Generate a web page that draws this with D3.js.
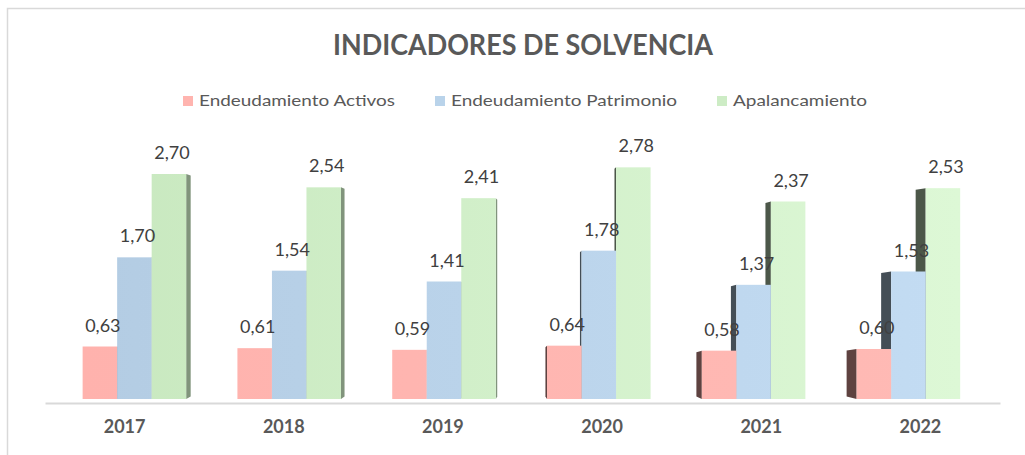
<!DOCTYPE html>
<html><head><meta charset="utf-8">
<script src="https://cdn.jsdelivr.net/npm/d3@7"></script>
<style>html,body{margin:0;padding:0;background:#fff;}svg{display:block;}</style>
</head><body>
<svg id="c" width="1025" height="455"></svg>
<script>
const years = ["2017","2018","2019","2020","2021","2022"];
const seriesNames = ["Endeudamiento Activos","Endeudamiento Patrimonio","Apalancamiento"];
const activos = [0.63,0.61,0.59,0.64,0.58,0.60];
const patrimonio = [1.70,1.54,1.41,1.78,1.37,1.53];
const apalancamiento = [2.70,2.54,2.41,2.78,2.37,2.53];
const seriesValues = [activos, patrimonio, apalancamiento];

const frontA = ["#ffb2ad","#b3cce3","#c8e8bf"];
const frontB = ["#ffbab5","#c3dcf3","#ddf8d6"];
const baseCol = ["#ffb4af","#b9d3ea","#cdecc5"];
const legendTextW = [196,226,134];

const svg = d3.select("#c");
const W = 1025, H = 455;
svg.append("rect").attr("width",W).attr("height",H).attr("fill","#fff");
svg.append("rect").attr("x",7.5).attr("y",8.5).attr("width",1040).attr("height",470)
  .attr("fill","none").attr("stroke","#d9d9d9").attr("stroke-width",1.5);

const defs = svg.append("defs");
seriesNames.forEach((s,i)=>{
  const g = defs.append("linearGradient").attr("id","g"+i)
    .attr("gradientUnits","userSpaceOnUse").attr("x1",80).attr("y1",0).attr("x2",960).attr("y2",0);
  g.append("stop").attr("offset","0").attr("stop-color",frontA[i]);
  g.append("stop").attr("offset","1").attr("stop-color",frontB[i]);
});

// Title
svg.append("text").attr("x",523).attr("y",55).attr("text-anchor","middle")
  .attr("font-family","Lato").attr("font-weight","bold").attr("font-size",28)
  .attr("fill","#595959").attr("textLength",380).attr("lengthAdjust","spacingAndGlyphs")
  .text("INDICADORES DE SOLVENCIA");

// Legend
let lx = 183;
seriesNames.forEach((s,i)=>{
  svg.append("rect").attr("x",lx).attr("y",96).attr("width",10).attr("height",10).attr("fill",baseCol[i]);
  svg.append("text").attr("x",lx+16).attr("y",106).attr("font-family","Lato").attr("font-size",15)
    .attr("fill","#595959").attr("textLength",legendTextW[i]).attr("lengthAdjust","spacingAndGlyphs").text(s);
  lx += 16 + legendTextW[i] + 40;
});

// Scales
const y0 = 399;
const y = d3.scaleLinear().domain([0,3]).range([y0, y0-250]);
const xGroup = d3.scaleBand().domain(years).range([57,985.8]).paddingInner(0.331).paddingOuter(0.1655);
const xSub = d3.scaleBand().domain(seriesNames).range([0,xGroup.bandwidth()]);
const xLabel = d3.scaleBand().domain(years).range([45,1000]);

function sideOff(c){ const t=Math.max(0,(c-xGroup("2017")-xGroup.bandwidth()/2)/774); return 4.5-14.5*Math.pow(t,1.7); }

const bars = svg.append("g");
years.forEach((yr,gi)=>{
  const gx = xGroup(yr);
  const c = gx + xGroup.bandwidth()/2;
  const off = sideOff(c);
  const order = off>=0 ? [0,1,2] : [2,1,0];
  order.forEach(si=>{
    const v = seriesValues[si][gi];
    const xl = gx + xSub(seriesNames[si]);
    const xr = xl + xSub.bandwidth();
    const yt = y(v);
    const dark = d3.color(baseCol[si]).darker(off>=0?1.3:2.8).formatHex();
    const xe = off>=0 ? xr : xl;
    bars.append("polygon")
      .attr("points",[[xe,yt],[xe+off,yt+1.5],[xe+off,y0-2.5],[xe,y0]].map(p=>p.join(",")).join(" "))
      .attr("fill",dark);
    bars.append("rect").attr("x",xl).attr("y",yt).attr("width",xr-xl).attr("height",y0-yt)
      .attr("fill","url(#g"+si+")");
  });
});

// Value labels
const labels = svg.append("g").attr("font-family","Lato").attr("font-size",18).attr("fill","#404040").attr("text-anchor","middle");
years.forEach((yr,gi)=>{
  seriesNames.forEach((s,si)=>{
    const v = seriesValues[si][gi];
    const cx = xGroup(yr)+xSub(s)+xSub.bandwidth()/2+3;
    labels.append("text").attr("x",cx).attr("y",y(v)-15).text(d3.format(".2f")(v).replace(".",","));
  });
});

// Axis
const ax = svg.append("g").attr("transform","translate(0,403)").call(d3.axisBottom(xLabel).tickSize(0).tickPadding(17));
ax.select(".domain").attr("stroke","#d9d9d9").attr("stroke-width",2);
ax.selectAll("text").attr("font-family","Lato").attr("font-weight","bold").attr("font-size",18).attr("fill","#595959");
</script>
</body></html>
